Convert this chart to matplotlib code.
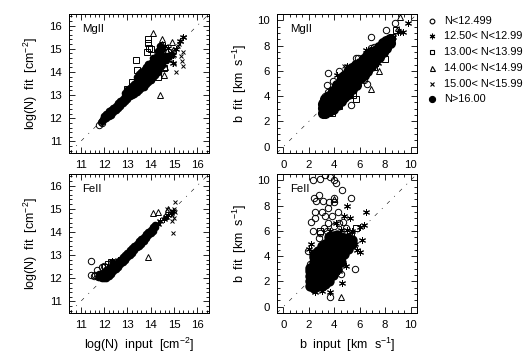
import matplotlib
matplotlib.use("Agg")
import matplotlib.pyplot as plt
from matplotlib.ticker import MultipleLocator

plt.rcParams["font.family"] = ["Liberation Sans", "DejaVu Sans"]
plt.rcParams["mathtext.default"] = "regular"

W, H = 528, 358

# saturated middle of each cloud, one (x, [y, ...]) per column
mg_n_core = [
    (11.9, [11.9]), (12.0, [11.95, 12.1]), (12.1, [12.0, 12.2]), (12.2, [12.1, 12.3]),
    (12.3, [12.15, 12.35]), (12.4, [12.25, 12.45]), (12.5, [12.35, 12.55]), (12.6, [12.45, 12.65]),
    (12.7, [12.55, 12.75]), (12.8, [12.65, 12.85]), (12.9, [12.75, 12.95, 13.1]),
    (13.0, [12.85, 13.0, 13.2]), (13.1, [12.95, 13.15, 13.3]), (13.2, [13.0, 13.2, 13.4]),
    (13.3, [13.05, 13.3, 13.5]), (13.4, [13.15, 13.4, 13.6, 13.8]), (13.5, [13.2, 13.45, 13.7, 13.9]),
    (13.6, [13.3, 13.55, 13.8, 14.0]), (13.7, [13.35, 13.65, 13.9, 14.1]), (13.8, [13.5, 13.75, 14.0, 14.2]),
    (13.9, [13.55, 13.85, 14.1, 14.35]), (14.0, [13.65, 13.9, 14.15, 14.4]),
    (14.1, [13.8, 14.0, 14.25, 14.45, 14.6]), (14.2, [13.85, 14.1, 14.35, 14.55]),
    (14.3, [14.0, 14.2, 14.45, 14.7, 14.9]), (14.4, [14.2, 14.5, 14.8, 15.1]), (14.5, [14.3, 14.5, 14.7, 15.0]),
    (14.65, [14.5, 14.7]), (14.8, [14.7]),
]
mg_b_core = [
    (3.1, [2.7, 3.1, 3.4]), (3.3, [2.7, 3.1, 3.5, 3.8]), (3.6, [2.8, 3.2, 3.6, 4.0]),
    (3.9, [3.0, 3.4, 3.8, 4.2, 4.4]), (4.2, [3.3, 3.7, 4.1, 4.5, 4.9]), (4.5, [3.6, 4.0, 4.4, 4.8, 5.2]),
    (4.8, [3.9, 4.3, 4.7, 5.1, 5.6]), (5.1, [4.2, 4.6, 5.0, 5.4, 5.9]),
    (5.4, [4.6, 5.0, 5.4, 5.8, 6.2]), (5.7, [4.9, 5.3, 5.7, 6.1, 6.5]),
    (6.0, [5.4, 5.8, 6.2, 6.6]), (6.3, [5.7, 6.1, 6.5, 6.9]), (6.6, [6.0, 6.4, 6.8, 7.2]),
    (6.9, [6.4, 6.8, 7.2, 7.5]), (7.2, [6.8, 7.2, 7.6]), (7.5, [7.1, 7.5, 7.9]),
    (7.8, [7.5, 7.9, 8.2]), (8.1, [7.8, 8.2, 8.4]), (8.4, [8.2, 8.5]),
]
fe_n_core = [
    (11.8, [12.05, 12.2]), (11.9, [12.0, 12.2]), (12.0, [12.0, 12.2]), (12.1, [12.0, 12.2, 12.35]),
    (12.2, [12.1, 12.3, 12.45]), (12.3, [12.2, 12.4, 12.5]), (12.4, [12.3, 12.5, 12.6]),
    (12.5, [12.4, 12.6]), (12.6, [12.5, 12.7]), (12.7, [12.6, 12.8]), (12.8, [12.7, 12.9]),
    (12.9, [12.8, 13.0]), (13.0, [12.9, 13.1]), (13.1, [13.0, 13.2]), (13.2, [13.1, 13.3]),
    (13.3, [13.2, 13.4]), (13.4, [13.35, 13.5]), (13.5, [13.4, 13.6]), (13.6, [13.5, 13.7]),
    (13.7, [13.6, 13.8]), (13.8, [13.75, 13.9]), (13.9, [13.85, 14.0]), (14.0, [13.95, 14.1]),
    (14.1, [14.05, 14.2]), (14.2, [14.2, 14.3]),
]
fe_b_core = [
    (2.1, [1.6, 2.0, 2.4, 2.8, 3.1]), (2.4, [1.5, 1.9, 2.3, 2.7, 3.1, 3.5, 3.9, 4.2]),
    (2.7, [1.6, 2.0, 2.4, 2.8, 3.2, 3.6, 4.0, 4.4]), (3.0, [1.6, 2.0, 2.4, 2.8, 3.2, 3.6, 4.0, 4.4, 4.8]),
    (3.3, [1.8, 2.2, 2.6, 3.0, 3.4, 3.8, 4.2, 4.6, 5.0]), (3.6, [2.0, 2.4, 2.8, 3.2, 3.6, 4.0, 4.4, 4.8, 5.2, 5.5]),
    (3.9, [2.5, 2.9, 3.3, 3.7, 4.1, 4.5, 4.9, 5.3, 5.6]), (4.2, [3.0, 3.4, 3.8, 4.2, 4.6, 5.0, 5.4, 5.7]),
    (4.5, [3.5, 3.9, 4.3, 4.7, 5.1, 5.5]), (4.8, [4.2, 4.6, 5.0, 5.4]), (5.1, [4.6, 5.0, 5.4]),
    (5.4, [5.0, 5.3]),
]

# open symbols: x list, y list per kind
mg_n_tri = ([14.1, 14.4, 14.55, 14.5, 14.9, 14.4, 14.7, 14.6, 14.8, 14.5, 14.95, 14.25], [15.7, 13.0, 13.85, 15.4, 15.3, 15.0, 14.9, 14.2, 14.6, 15.2, 14.95, 14.9])
mg_n_sq = ([13.9, 13.9, 13.95, 13.35, 13.4, 13.55, 13.85, 14.55, 14.3, 13.0, 13.2, 13.5, 13.7, 14.0, 14.5], [15.4, 15.25, 15.05, 14.5, 14.1, 13.8, 14.85, 14.15, 13.8, 13.25, 13.55, 13.3, 13.75, 15.0, 14.4])
mg_n_cir = ([11.8, 11.85, 11.9, 11.95], [11.7, 11.85, 11.8, 11.95])
mg_n_x = ([15.1, 15.4, 15.35, 15.3, 15.4, 15.2, 15.45, 15.3, 15.0, 14.95, 15.15, 14.75, 14.9], [14.0, 14.25, 14.45, 14.7, 14.85, 15.2, 15.5, 15.35, 14.35, 14.7, 15.1, 14.5, 14.9])
mg_n_st = ([15.4, 15.25, 15.1, 14.7, 14.95, 14.85, 14.6, 14.75, 14.95, 14.6], [15.5, 15.35, 15.0, 14.6, 14.4, 14.8, 14.45, 15.05, 14.75, 15.1])

mg_b_cir = ([3.5, 3.4, 6.85, 8.1, 8.8, 5.7, 4.4, 3.5, 5.3, 6.6, 6.9, 5.3, 3.0, 3.05, 3.3, 3.9, 4.6, 5.9, 7.1, 6.3, 4.1], [5.8, 4.9, 8.7, 9.2, 9.75, 7.0, 6.0, 4.3, 3.3, 5.0, 7.8, 5.9, 3.5, 3.1, 4.0, 5.2, 5.6, 7.0, 7.9, 5.3, 5.0])
mg_b_sq = ([8.85, 5.7, 5.5, 8.0, 8.5, 3.8, 3.3, 4.4, 7.1], [9.2, 3.75, 4.1, 6.9, 8.7, 2.65, 2.55, 3.2, 6.3])
mg_b_tri = ([9.2, 7.5, 6.9, 6.7, 7.7], [10.3, 6.0, 4.55, 6.2, 7.3])
mg_b_x = ([4.75, 6.2, 8.9], [6.4, 7.1, 9.4])
mg_b_st = ([9.8, 6.5, 9.0, 9.2, 9.4, 4.2, 8.6, 7.9, 5.0, 7.4], [9.75, 7.65, 9.05, 9.1, 9.05, 5.7, 8.7, 8.4, 6.4, 6.6])

fe_n_cir = ([11.45, 11.45, 11.6, 11.7, 11.9, 12.0, 11.55, 11.75], [12.75, 12.15, 12.15, 12.35, 12.5, 12.55, 12.1, 12.05])
fe_n_sq = ([12.15, 12.05, 12.3], [12.6, 12.5, 12.7])
fe_n_tri = ([13.9, 14.1, 14.3, 14.6, 14.75], [12.9, 14.8, 14.85, 14.7, 15.0])
fe_n_x = ([15.05, 14.95, 14.9, 15.0, 14.9, 15.05, 14.7, 15.0, 14.85], [15.3, 13.95, 14.45, 14.6, 14.75, 14.85, 15.0, 15.0, 14.9])
fe_n_st = ([12.35, 12.6, 14.3, 14.4, 14.55, 14.65, 14.75, 14.85, 14.95], [12.75, 12.8, 14.35, 14.45, 14.55, 14.65, 14.75, 14.8, 14.9])

fe_b_cir = ([2.3, 2.9, 3.3, 3.7, 4.0, 4.1, 4.6, 5.3, 2.4, 2.6, 2.8, 3.1, 3.6, 4.0, 4.0, 2.5, 3.0, 3.5, 4.3, 2.2, 2.5, 2.3, 1.9, 5.6, 3.7, 4.5, 3.3, 3.8, 4.7, 3.2, 4.9, 2.1, 2.8, 3.5, 4.0, 4.4, 2.9, 3.4], [10.0, 10.1, 10.4, 10.3, 10.0, 9.8, 9.2, 8.6, 8.6, 8.4, 8.8, 8.4, 8.3, 8.3, 8.6, 7.5, 7.5, 7.8, 7.5, 6.7, 7.0, 6.0, 4.4, 3.0, 0.8, 2.6, 7.2, 7.2, 6.7, 6.2, 6.2, 3.4, 5.4, 6.6, 6.4, 6.6, 5.8, 6.0])
fe_b_sq = ([5.7, 5.3, 2.9], [6.2, 5.6, 6.0])
fe_b_tri = ([4.5, 4.0], [0.75, 8.5])
fe_b_st = ([6.5, 5.0, 4.8, 5.2, 6.3, 6.0, 6.0, 6.2, 5.8, 4.9, 4.6, 3.7, 2.2, 2.0, 4.4, 2.5, 3.0, 5.6, 4.1, 5.0, 5.4, 3.7, 4.5], [7.5, 8.0, 7.2, 7.0, 6.5, 6.3, 4.3, 5.3, 4.5, 3.2, 1.9, 1.2, 5.0, 4.6, 2.8, 1.2, 1.25, 5.0, 6.6, 6.1, 6.0, 6.0, 6.1])

legend_labels = ["N<12.499", "12.50< N<12.99", "13.00< N<13.99", "14.00< N<14.99", "15.00< N<15.99", "N>16.00"]
legend_y = [21, 36, 52, 68, 84, 99]

asterisk = (6, 2, 0)
kinds = {
    "cir": dict(marker="o", ms=4.6),
    "sq": dict(marker="s", ms=4.4),
    "tri": dict(marker="^", ms=4.8),
    "x": dict(marker="x", ms=3.4),
    "st": dict(marker=asterisk, ms=5.0),
}


def make_axes(fig, left, top, right, bottom):
    return fig.add_axes([left / W, 1 - bottom / H, (right - left) / W, (bottom - top) / H])


def draw_symbols(ax, name, data):
    style = kinds[name]
    ax.plot(data[0], data[1], ls="none", marker=style["marker"], ms=style["ms"], mfc="none",
            mec="black", mew=0.7, antialiased=False, clip_on=True)


def draw_core(ax, columns, size):
    for x, ys in columns:
        ax.plot([x] * len(ys), ys, ls="none", marker="o", ms=size, mfc="black", mec="black",
                mew=0, antialiased=False)


def finish(ax, lims, major, minor, xlabel, ylabel, name, label_x):
    ax.set_xlim(lims)
    ax.set_ylim(lims)
    ax.plot(lims, lims, color="black", lw=0.4, dashes=(7, 11, 2, 11), antialiased=True, zorder=1)
    ax.xaxis.set_major_locator(MultipleLocator(major))
    ax.xaxis.set_minor_locator(MultipleLocator(minor))
    ax.yaxis.set_major_locator(MultipleLocator(major))
    ax.yaxis.set_minor_locator(MultipleLocator(minor))
    ax.tick_params(which="major", direction="in", top=True, right=True, length=4.2, width=0.6, labelsize=8.2, pad=5)
    ax.tick_params(which="minor", direction="in", top=True, right=True, length=2.2, width=0.6)
    for spine in ax.spines.values():
        spine.set_linewidth(0.6)
        spine.set_antialiased(False)
    for line in ax.xaxis.get_ticklines(minor=True) + ax.yaxis.get_ticklines(minor=True):
        line.set_antialiased(False)
    for line in ax.xaxis.get_ticklines() + ax.yaxis.get_ticklines():
        line.set_antialiased(False)
    if xlabel:
        ax.set_xlabel(xlabel, fontsize=9)
        ax.xaxis.set_label_coords(0.5, -0.165)
    if ylabel:
        ax.set_ylabel(ylabel, fontsize=9)
        ax.yaxis.set_label_coords(label_x, 0.5)
    ax.text(0.095, 0.87, name, transform=ax.transAxes, fontsize=8.2)


fig = plt.figure(figsize=(W / 100, H / 100), dpi=100, facecolor="white")

ax1 = make_axes(fig, 69, 14, 209, 153)
ax2 = make_axes(fig, 277, 14, 417, 153)
ax3 = make_axes(fig, 69, 174, 209, 313)
ax4 = make_axes(fig, 277, 174, 417, 313)

draw_core(ax1, mg_n_core, 5.5)
for name, data in [("cir", mg_n_cir), ("sq", mg_n_sq), ("tri", mg_n_tri), ("x", mg_n_x), ("st", mg_n_st)]:
    draw_symbols(ax1, name, data)

draw_core(ax2, mg_b_core, 8.0)
for name, data in [("cir", mg_b_cir), ("sq", mg_b_sq), ("tri", mg_b_tri), ("x", mg_b_x), ("st", mg_b_st)]:
    draw_symbols(ax2, name, data)

draw_core(ax3, fe_n_core, 5.5)
for name, data in [("cir", fe_n_cir), ("sq", fe_n_sq), ("tri", fe_n_tri), ("x", fe_n_x), ("st", fe_n_st)]:
    draw_symbols(ax3, name, data)

draw_core(ax4, fe_b_core, 7.5)
for name, data in [("cir", fe_b_cir), ("sq", fe_b_sq), ("tri", fe_b_tri), ("st", fe_b_st)]:
    draw_symbols(ax4, name, data)

n_lims = (10.5, 16.5)
b_lims = (-0.5, 10.5)
nfit = "log(N)  fit  [cm$^{-2}$]"
bfit = "b  fit  [km  s$^{-1}$]"
finish(ax1, n_lims, 1, 0.2, None, nfit, "MgII", -0.21)
finish(ax2, b_lims, 2, 0.5, None, bfit, "MgII", -0.2)
finish(ax3, n_lims, 1, 0.2, "log(N)  input  [cm$^{-2}$]", nfit, "FeII", -0.21)
finish(ax4, b_lims, 2, 0.5, "b  input  [km  s$^{-1}$]", bfit, "FeII", -0.2)

# legend sits right of the panels
legend_ax = fig.add_axes([0, 0, 1, 1], facecolor="none")
legend_ax.set_xlim(0, W)
legend_ax.set_ylim(H, 0)
legend_ax.axis("off")
legend_marks = [("o", "none", 3.4), (asterisk, "black", 4.0), ("s", "none", 3.4), ("^", "none", 3.6), ("x", "none", 3.0), ("o", "black", 4.4)]
for label, y, (mark, face, size) in zip(legend_labels, legend_y, legend_marks):
    legend_ax.plot([432], [y], ls="none", marker=mark, ms=size, mfc=face, mec="black", mew=0.8, antialiased=False)
    legend_ax.text(444, y, label, fontsize=7.9, va="center", ha="left")

fig.savefig("out.png", dpi=100, facecolor="white")
